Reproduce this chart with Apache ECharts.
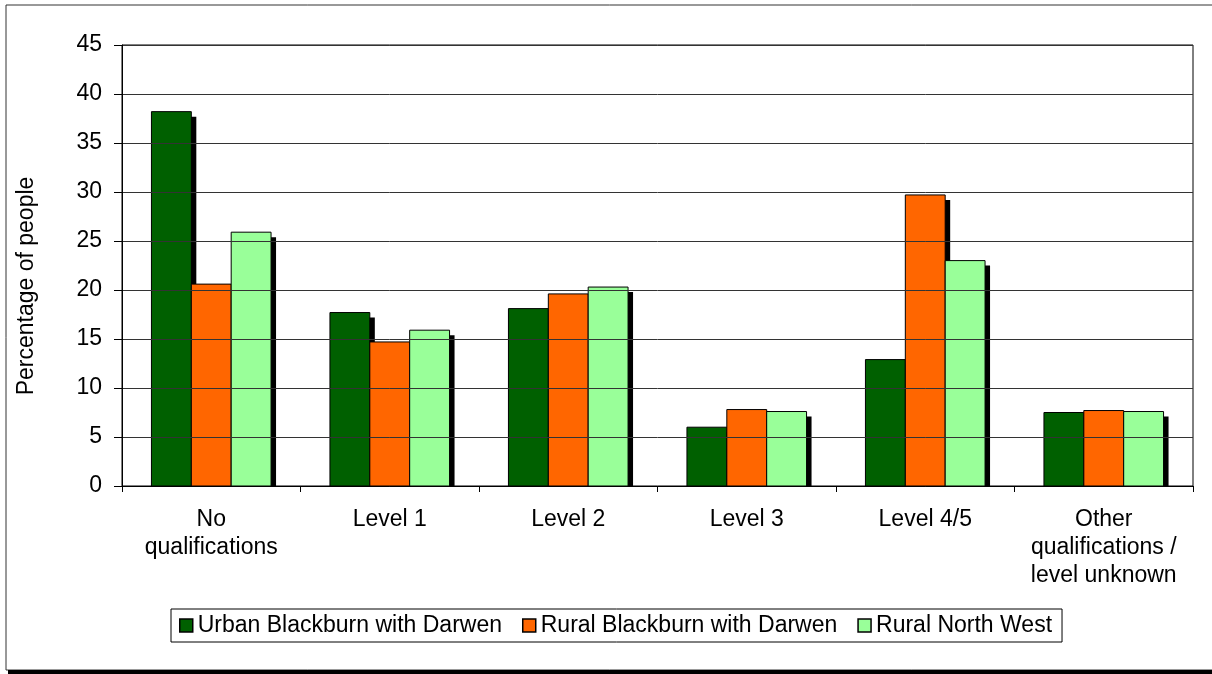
<!DOCTYPE html>
<html><head><meta charset="utf-8">
<script src="https://cdn.jsdelivr.net/npm/echarts@6/dist/echarts.min.js"></script>
<style>html,body{margin:0;padding:0;background:#fff}#c{width:1212px;height:674px}</style>
</head><body><div id="c"></div>
<script>
const categories = ['No\nqualifications', 'Level 1', 'Level 2', 'Level 3', 'Level 4/5', 'Other\nqualifications /\nlevel unknown'];
const seriesNames = ['Urban Blackburn with Darwen', 'Rural Blackburn with Darwen', 'Rural North West'];
const urbanBwD = [38.2, 17.7, 18.1, 6.0, 12.9, 7.5];
const ruralBwD = [20.6, 14.7, 19.6, 7.8, 29.7, 7.7];
const ruralNW  = [25.9, 15.9, 20.3, 7.6, 23.0, 7.6];
const seriesColors = ['#006000', '#FF6600', '#99FF99'];
const yAxisTitle = 'Percentage of people';

const FONT = "'Liberation Sans', Arial, sans-serif";
const chart = echarts.init(document.getElementById('c'), null, {renderer: 'canvas'});

const GROUP_FRACTION = 0.67;   // share of the category band taken by the bar group
const SHADOW = 5;

function barSeries(idx, data) {
  const color = seriesColors[idx];
  return {
    name: seriesNames[idx], type: 'custom',
    data: data.map((v, i) => [i, v]),
    encode: {x: 0, y: 1},
    itemStyle: {color: color},
    renderItem: function (params, api) {
      const ci = api.value(0), val = api.value(1);
      const band = api.size([1, 0])[0];
      const bw = band * GROUP_FRACTION / 3;
      const base = api.coord([ci, 0]);
      const top = api.coord([ci, val]);
      const x = base[0] - 1.5 * bw + idx * bw;
      const h = base[1] - top[1];
      return {
        type: 'group',
        children: [
          {type: 'rect', shape: {x: x + SHADOW, y: top[1] + SHADOW, width: bw, height: Math.max(0, h - SHADOW)},
           style: {fill: '#000'}},
          {type: 'rect', shape: {x: x, y: top[1], width: bw, height: h},
           style: {fill: color, stroke: '#000', lineWidth: 1}}
        ]
      };
    },
    animation: false
  };
}

chart.setOption({
  animation: false,
  textStyle: {fontFamily: FONT, color: '#000'},
  grid: {left: 122, right: 19, top: 45, bottom: 188, show: true, borderColor: '#000', borderWidth: 1, backgroundColor: 'transparent'},
  legend: {
    data: seriesNames,
    left: 171, top: 609,
    orient: 'horizontal',
    itemWidth: 13, itemHeight: 13, itemGap: 20,
    padding: [5, 10, 5, 8],
    borderColor: '#000', borderWidth: 1, backgroundColor: '#fff',
    icon: 'rect',
    itemStyle: {borderColor: '#000', borderWidth: 1.5},
    textStyle: {fontFamily: FONT, fontSize: 23, color: '#000'},
    selectedMode: false
  },
  xAxis: {
    type: 'category', data: categories, z: 5,
    axisLine: {lineStyle: {color: '#000', width: 1}},
    axisTick: {show: true, length: 6, lineStyle: {color: '#000'}},
    axisLabel: {fontFamily: FONT, fontSize: 23, color: '#000', lineHeight: 28, margin: 20, interval: 0}
  },
  yAxis: {
    type: 'value', min: 0, max: 45, interval: 5, z: 5,
    axisLine: {show: true, lineStyle: {color: '#000', width: 1}},
    axisTick: {show: true, length: 8, lineStyle: {color: '#000'}},
    axisLabel: {fontFamily: FONT, fontSize: 23, color: '#000', margin: 20},
    splitLine: {show: true, lineStyle: {color: '#333', width: 1}}
  },
  graphic: [
    {type: 'rect', z: -10, silent: true, shape: {x: 6, y: 5, width: 1230, height: 665}, style: {fill: 'none', stroke: '#333', lineWidth: 1}},
    {type: 'line', z: -10, silent: true, shape: {x1: 8, y1: 672, x2: 1212, y2: 672}, style: {stroke: '#000', lineWidth: 4}},
    {type: 'text', z: 5, silent: true, x: 27, y: 286, rotation: Math.PI / 2,
     style: {text: yAxisTitle, font: '23px ' + FONT, fill: '#000', align: 'center', verticalAlign: 'middle'}}
  ],
  series: [
    barSeries(0, urbanBwD),
    barSeries(1, ruralBwD),
    barSeries(2, ruralNW)
  ]
});
</script>
</body></html>
